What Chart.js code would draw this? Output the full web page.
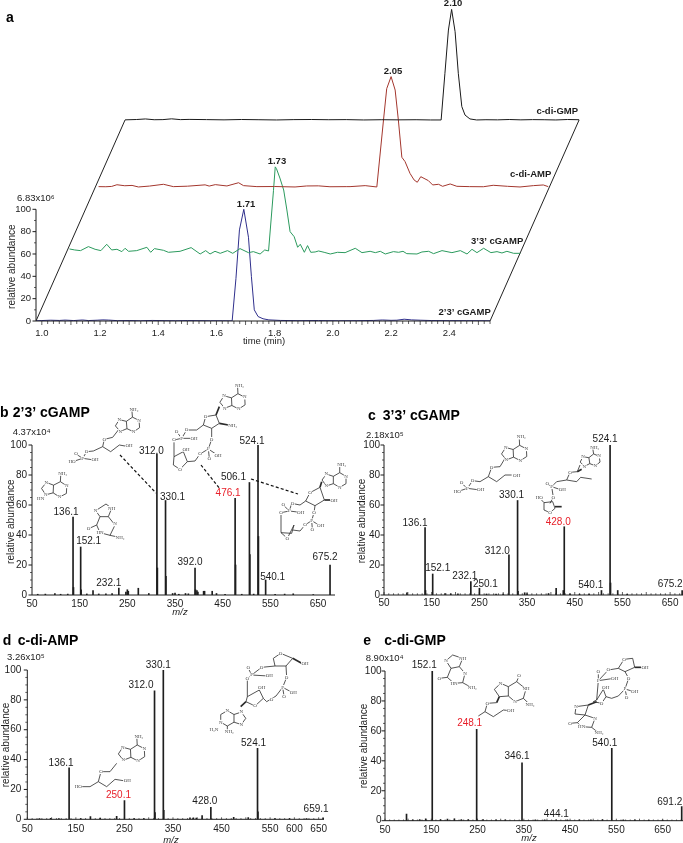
<!DOCTYPE html>
<html>
<head>
<meta charset="utf-8">
<style>
html, body { margin: 0; padding: 0; background: #fff; }
#page { position: relative; width: 683px; height: 843px; overflow: hidden; }
canvas { position: absolute; }
</style>
<script src="https://cdn.jsdelivr.net/npm/chart.js@4"></script>
</head>
<body>
<div id="page"></div>
<script>
// panel a: traces, time in min, abundance above own baseline
var timeTicks = [1.0, 1.2, 1.4, 1.6, 1.8, 2.0, 2.2, 2.4];
var abundanceTicks = [0, 20, 40, 60, 80, 100];

var cgamp23Times = [0.98, 1.0, 1.03, 1.06, 1.08, 1.11, 1.14, 1.16, 1.19, 1.21, 1.23, 1.26, 1.3, 1.34, 1.38, 1.42, 1.46, 1.5, 1.54, 1.58, 1.62, 1.654, 1.667, 1.679, 1.694, 1.71, 1.72, 1.73, 1.743, 1.76, 1.78, 1.82, 1.88, 1.95, 2.02, 2.08, 2.14, 2.17, 2.2, 2.22, 2.245, 2.27, 2.3, 2.34, 2.4, 2.46, 2.54];
var cgamp23Values = [0.2, 0.4, 0.7, 0.5, 0.8, 0.4, 0.9, 0.4, 0.7, 1, 0.8, 0.3, 0.4, 0.2, 0.5, 0.3, 0.2, 0.4, 0.3, 0.2, 0.2, 0.1, 38, 81.6, 100, 75, 40, 10, 4, 2, 1, 0.5, 0.3, 0.4, 0.2, 0.3, 0.5, 0.9, 0.6, 0.7, 1.6, 1, 0.7, 0.4, 0.3, 0.3, 0.2];

var cgamp33Times = [0.992, 1.01, 1.03, 1.057, 1.08, 1.10, 1.12, 1.137, 1.155, 1.172, 1.183, 1.195, 1.223, 1.258, 1.271, 1.284, 1.315, 1.332, 1.372, 1.41, 1.441, 1.46, 1.475, 1.492, 1.51, 1.535, 1.553, 1.578, 1.607, 1.624, 1.647, 1.663, 1.676, 1.693, 1.699, 1.703, 1.715, 1.728, 1.739, 1.75, 1.764, 1.776, 1.785, 1.799, 1.81, 1.821, 1.836, 1.848, 1.867, 1.888, 1.913, 1.939, 1.974, 1.997, 2.025, 2.043, 2.06, 2.077, 2.105, 2.123, 2.138, 2.151, 2.186, 2.203, 2.226, 2.243, 2.272, 2.306, 2.335, 2.358, 2.375, 2.392, 2.415, 2.44, 2.461, 2.478, 2.495, 2.518, 2.541];
var cgamp33Values = [4.5, 3.6, 3, 6.6, 4.2, 3, 8.7, 3.6, 4.2, 2.1, 5.1, 2.4, 3, 6, 1.5, 4.8, 3.3, 1.5, 2.4, 5.7, 0, 3, 0, 2.4, 0.6, 3, 0.6, 4.8, 1.2, 2.1, 0, 3.6, 2.7, 57, 78, 76.5, 68, 57.3, 39.4, 20, 15.5, 6, 8.7, 1.5, 7.5, 1.5, 1.8, 2.7, 1.5, 0, 1.5, 1.2, 5.1, 1.2, 2.4, 1.2, 2.4, 0, 2.1, 1.5, 2.4, 0.3, 0, 1.8, 2.4, 0.3, 3, 1.2, 3, 0, 4.2, 1.2, 5.1, 1.2, 2.1, 0.9, 2.4, 0.6, 0.6];

var diAmpTimes = [0.995, 1.02, 1.04, 1.058, 1.085, 1.11, 1.132, 1.17, 1.218, 1.252, 1.3, 1.361, 1.375, 1.396, 1.436, 1.476, 1.493, 1.539, 1.6, 1.67, 1.71, 1.75, 1.79, 1.848, 1.859, 1.911, 1.951, 1.974, 1.985, 2.0, 2.014, 2.025, 2.037, 2.048, 2.065, 2.079, 2.09, 2.102, 2.128, 2.143, 2.163, 2.177, 2.203, 2.226, 2.27, 2.317, 2.351, 2.4, 2.443, 2.489, 2.523, 2.54];
var diAmpValues = [0.3, 0.2, 0.5, 2, 1.1, 1.4, 0, 0.8, 2.4, 0.3, 0.7, 1.9, 0.8, 2.1, 0.9, 3.8, 1.2, 0.3, 0.4, 0, 0.9, 1, 0.2, 0.3, 0.3, 1.2, 0, 60, 88, 98.8, 86.8, 60, 26.6, 22.7, 12.2, 6.3, 4.2, 9.2, 5.7, 1.8, 2.4, 0.6, 2.7, 0.6, 0.3, 0.2, 1.5, 0.6, 0, 1.2, 1.8, 0.3];

var diGmpTimes = [0.98, 1.02, 1.05, 1.08, 1.11, 1.14, 1.17, 1.2, 1.26, 1.32, 1.38, 1.44, 1.5, 1.56, 1.62, 1.68, 1.74, 1.8, 1.86, 1.92, 1.98, 2.03, 2.066, 2.079, 2.091, 2.102, 2.114, 2.125, 2.137, 2.148, 2.165, 2.188, 2.22, 2.26, 2.3, 2.34, 2.38, 2.42, 2.46, 2.5, 2.54];
var diGmpValues = [0.1, 0.4, 0.9, 0.2, 0.3, 1.0, 0.3, 0.5, 0.3, 0.1, 0.4, 0.2, 0, 0.3, 0.4, 0.2, 0.3, 0, 0.2, 0.1, 0.2, 0, 0, 41.8, 80.5, 99, 79, 41.8, 12, 4.4, 0.9, 0, 0.2, 0.1, 0.4, 0.1, 0.3, 0.2, 0, 0.4, 0.2];

// where each trace sits on the slanted stack, in axis units
var traceLift = [0, 60, 120, 180];
var traceShift = [0, 0.103, 0.2, 0.306];
var traceNames = ["2’3’ cGAMP", "3’3’ cGAMP", "c-di-AMP", "c-di-GMP"];
var tracePeakLabels = ["1.71", "1.73", "2.05", "2.10"];

// panels b-e: every stick of the spectra, m/z against relative abundance
var bMz = [136.1, 137, 152.1, 153, 232.1, 312, 313, 330.1, 331, 392, 393, 476.1, 477, 506.1, 507, 524.1, 525, 540.1, 675.2, 62, 78, 98, 110, 125, 165, 178, 190, 205, 218, 247, 250, 252, 273, 295, 345, 350, 358, 372, 378, 396, 398, 410, 412, 428, 437, 455, 490, 515, 560, 580, 598, 640];
var bValues = [52, 5, 32, 3.5, 4.6, 94, 18, 63, 12.5, 18, 3.5, 64.5, 20, 75, 27, 100, 39, 10, 20, 0.5, 0.6, 1, 0.5, 0.6, 0.7, 3, 0.7, 0.8, 1, 2, 3.5, 2.5, 4.5, 1, 1, 1.2, 0.5, 1, 0.8, 3, 2, 2.5, 2.5, 2.5, 1, 0.5, 0.5, 0.6, 0.4, 0.6, 0.8, 0.3];
var bLabelMz = [136.1, 152.1, 232.1, 312, 330.1, 392, 476.1, 506.1, 524.1, 540.1, 675.2];
var bLabelValues = [52, 32, 4.6, 94, 63, 18, 64.5, 75, 100, 10, 20];
var bLabelTexts = ["136.1", "152.1", "232.1", "312.0", "330.1", "392.0", "476.1", "506.1", "524.1", "540.1", "675.2"];

var cMz = [136.1, 137, 152.1, 232.1, 250.1, 312, 330.1, 331, 345, 350, 428, 426, 411, 506, 524.1, 525, 540.1, 675.2, 98, 178, 190, 205, 265, 285, 300, 395, 440, 460, 480, 560];
var cValues = [45, 3, 14, 9, 4.5, 26.7, 63, 2.5, 1.5, 1, 45.5, 3, 4.5, 3, 100, 8, 3, 3, 1.5, 1, 0.8, 0.8, 0.7, 0.6, 0.7, 1, 0.8, 0.6, 0.6, 0.5];
var cLabelMz = [136.1, 152.1, 232.1, 250.1, 312, 330.1, 428, 540.1, 524.1, 675.2];
var cLabelValues = [45, 14, 9, 4.5, 26.7, 63, 45.5, 3, 100, 3];
var cLabelTexts = ["136.1", "152.1", "232.1", "250.1", "312.0", "330.1", "428.0", "540.1", "524.1", "675.2"];

var dMz = [136.1, 250.1, 312, 313, 330.1, 331, 428, 410, 524.1, 525, 659.1, 75, 98, 115, 160, 180, 200, 234, 270, 290, 385, 392, 398, 475, 505, 560, 590, 625];
var dValues = [34.5, 12.5, 86, 4.5, 100, 6, 8, 2.5, 47.5, 5, 1, 0.5, 0.6, 0.5, 0.5, 1.8, 0.6, 2, 0.5, 0.5, 1, 1, 0.8, 1.4, 1.2, 0.5, 0.4, 0.4];
var dLabelMz = [136.1, 250.1, 312, 330.1, 428, 524.1, 659.1];
var dLabelValues = [34.5, 12.5, 86, 100, 8, 47.5, 1];
var dLabelTexts = ["136.1", "250.1", "312.0", "330.1", "428.0", "524.1", "659.1"];

var eMz = [152.1, 248.1, 346.1, 444.1, 540.1, 691.2, 96.5, 110, 125, 138, 170, 185, 200, 215, 230, 262, 290, 310, 375, 395, 420, 470, 495, 520, 565, 590, 620, 650];
var eValues = [100, 61, 38.7, 0.5, 48.3, 9.4, 4.5, 0.6, 0.8, 1.2, 0.8, 1, 1.2, 0.8, 0.7, 0.8, 0.6, 0.5, 0.5, 0.6, 0.5, 0.5, 0.5, 0.8, 0.6, 0.5, 0.4, 0.4];
var eLabelMz = [152.1, 248.1, 346.1, 444.1, 540.1, 691.2];
var eLabelValues = [100, 61, 38.7, 0.5, 48.3, 9.4];
var eLabelTexts = ["152.1", "248.1", "346.1", "444.1", "540.1", "691.2"];

var mzTicks = [50, 150, 250, 350, 450, 550, 650];
var mzTicksD = [50, 150, 250, 350, 450, 550, 600, 650];

var SANS = '"Liberation Sans", Arial, sans-serif';
var INK = "#1c1c1c";
Chart.defaults.animation = false;
Chart.defaults.font.family = SANS;

function addCanvas(box) {
    var canvas = document.createElement("canvas");
    canvas.width = box.width;
    canvas.height = box.height;
    canvas.style.left = box.left + "px";
    canvas.style.top = box.top + "px";
    document.getElementById("page").appendChild(canvas);
    return canvas;
}

function line(ctx, x1, y1, x2, y2, width) {
    ctx.beginPath();
    ctx.lineWidth = width || 1;
    ctx.moveTo(x1, y1);
    ctx.lineTo(x2, y2);
    ctx.stroke();
}

function text(ctx, str, x, y, font, align, color) {
    ctx.font = font;
    ctx.textAlign = align || "center";
    ctx.textBaseline = "middle";
    ctx.fillStyle = color || INK;
    ctx.fillText(str, x, y);
}

function sideLabel(ctx, str, x, y) {
    ctx.save();
    ctx.translate(x, y);
    ctx.rotate(-Math.PI / 2);
    text(ctx, str, 0, 0, "10px " + SANS);
    ctx.restore();
}

// small chemical sketches, coordinates are in 3x crop pixels
function drawPurine(ctx, cx, cy, size, rot) {
    var pts = [[0, -0.5], [0.87, -1], [1.73, -0.5], [1.73, 0.5], [0.87, 1], [0, 0.5], [-0.95, 0.81], [-1.54, 0], [-0.95, -0.81]];
    var p = pts.map(function (q) {
        return [cx + size * (q[0] * Math.cos(rot) - q[1] * Math.sin(rot)), cy + size * (q[0] * Math.sin(rot) + q[1] * Math.cos(rot))];
    });
    ctx.lineWidth = 2.4;
    ctx.beginPath();
    p.forEach(function (q, i) { if (i) ctx.lineTo(q[0], q[1]); else ctx.moveTo(q[0], q[1]); });
    ctx.closePath();
    ctx.moveTo(p[0][0], p[0][1]);
    ctx.lineTo(p[5][0], p[5][1]);
    ctx.stroke();
    var nh = [cx + size * (0.87 * Math.cos(rot) + 1.9 * Math.sin(rot)), cy + size * (0.87 * Math.sin(rot) - 1.9 * Math.cos(rot))];
    line(ctx, p[1][0], p[1][1], nh[0], nh[1], 2.4);
    return [[p[2][0], p[2][1], "N"], [p[4][0], p[4][1], "N"], [p[6][0], p[6][1], "N"], [p[8][0], p[8][1], "N"], [nh[0] + 6, nh[1] - 4, "NH₂"]];
}

function drawSketch(ctx, box, originX, originY, parts) {
    ctx.save();
    ctx.translate(originX - box.left, originY - box.top);
    ctx.scale(1 / 3, 1 / 3);
    ctx.strokeStyle = "#2a2a2a";
    ctx.lineJoin = "round";
    var atoms = (parts.atoms || []).slice();
    (parts.purines || []).forEach(function (pu) {
        atoms = atoms.concat(drawPurine(ctx, pu[0], pu[1], pu[2], pu[3]));
    });
    (parts.lines || []).forEach(function (l) {
        ctx.lineWidth = 2.4;
        ctx.beginPath();
        for (var i = 0; i < l.length; i += 2) {
            if (i) ctx.lineTo(l[i], l[i + 1]); else ctx.moveTo(l[i], l[i + 1]);
        }
        ctx.stroke();
    });
    (parts.bold || []).forEach(function (l) {
        line(ctx, l[0], l[1], l[2], l[3], 5);
    });
    atoms.forEach(function (a) {
        ctx.font = "15px \"Liberation Serif\", serif";
        var w = ctx.measureText(a[2]).width;
        ctx.fillStyle = "#fff";
        ctx.fillRect(a[0] - w / 2 - 1, a[1] - 7, w + 2, 14);
        text(ctx, a[2], a[0], a[1], "15px \"Liberation Serif\", serif", "center", "#444");
    });
    ctx.restore();
}

function drawDashed(ctx, box, segments) {
    ctx.save();
    ctx.translate(-box.left, -box.top);
    ctx.setLineDash([3, 2.2]);
    ctx.strokeStyle = "#111";
    segments.forEach(function (s) { line(ctx, s[0], s[1], s[2], s[3], 1.2); });
    ctx.restore();
}

// shared axis ink: the axis line stops where the printed axis stops, so it is not the library border
function drawAxes(ctx, xs, ys, opt) {
    ctx.save();
    ctx.strokeStyle = INK;
    var x0 = xs.getPixelForValue(opt.xFrom), x1 = xs.getPixelForValue(opt.xTo);
    var y0 = ys.getPixelForValue(0), y1 = ys.getPixelForValue(100);
    line(ctx, x0, y0, x0, y1, 1);
    line(ctx, x0, y0, x1, y0, 1);
    for (var v = 0; v <= 100; v += opt.yMinor) {
        var py = ys.getPixelForValue(v);
        line(ctx, x0 - (v % 20 === 0 ? 3.5 : 2), py, x0, py, v % 20 === 0 ? 1 : 0.7);
    }
    if (opt.xMinor) {
        var n = Math.round((opt.xTo - opt.xFirst) / opt.xMinor);
        for (var i = 0; i <= n; i++) {
            var val = opt.xFirst + i * opt.xMinor;
            var px = xs.getPixelForValue(val);
            var big = i % opt.xMajorEvery === 0;
            var len = (big ? opt.xBig : opt.xSmall) * opt.xDir;
            line(ctx, px, y0, px, y0 + len, 0.7);
        }
    }
    ctx.restore();
}

function fixedAxis(size) {
    return function (scale) {
        if (scale.isHorizontal()) {
            scale.height = size;
            scale.paddingLeft = 0;
            scale.paddingRight = 0;
        } else {
            scale.width = size;
            scale.paddingTop = 0;
            scale.paddingBottom = 0;
        }
    };
}

function fixTicks(list) {
    return function (scale) {
        scale.ticks = list.map(function (v) { return { value: v }; });
    };
}

// ---- panel a ----
var boxA = { left: 0, top: 0, width: 683, height: 348 };
var traceColors = ["#2f2f8c", "#2b9a5d", "#a3362d", "#1a1a1a"];

function tracePoints(times, values, layer) {
    return times.map(function (t, i) {
        return { x: t + traceShift[layer], y: values[i] + traceLift[layer] };
    });
}

var traceSets = [
    [cgamp23Times, cgamp23Values],
    [cgamp33Times, cgamp33Values],
    [diAmpTimes, diAmpValues],
    [diGmpTimes, diGmpValues]
];
var datasetsA = traceSets.slice().reverse().map(function (pair, i) {
    var layer = 3 - i;
    return {
        label: traceNames[layer],
        data: tracePoints(pair[0], pair[1], layer),
        borderColor: traceColors[layer],
        borderWidth: 1,
        pointRadius: 0,
        tension: 0
    };
});
// slanted sides of the stack
[0.98, 2.54].forEach(function (t) {
    datasetsA.push({
        label: "edge",
        data: [{ x: t, y: traceLift[0] }, { x: t + traceShift[3], y: traceLift[3] }],
        borderColor: "#222",
        borderWidth: 1,
        pointRadius: 0
    });
});

var peakShift = [[2.3, -4.5], [1.7, -5.3], [2, -5.7], [1.5, -6.3]];
var nameShift = [[0.7, -9], [3, -13], [3, -13], [-1, -8.3]];
var traceEnd = [2.54, 2.541, 2.54, 2.54];

new Chart(addCanvas(boxA), {
    type: "line",
    data: { datasets: datasetsA },
    options: {
        responsive: false,
        parsing: true,
        layout: { padding: 0 },
        plugins: { legend: { display: false }, tooltip: { enabled: false } },
        scales: {
            x: {
                type: "linear", min: 0.98, max: 3.203,
                grid: { display: false, drawTicks: false }, border: { display: false },
                afterFit: fixedAxis(27),
                afterBuildTicks: fixTicks(timeTicks),
                ticks: {
                    padding: 6.7, color: INK, font: { size: 9.5 }, maxRotation: 0, autoSkip: false,
                    callback: function (v) { return v.toFixed(1); }
                }
            },
            y: {
                type: "linear", min: 0, max: 287.4,
                grid: { display: false, drawTicks: false }, border: { display: false },
                afterFit: fixedAxis(36),
                afterBuildTicks: fixTicks(abundanceTicks),
                ticks: { padding: 5, color: INK, font: { size: 9.5 }, autoSkip: false }
            }
        }
    },
    plugins: [{
        id: "panelA",
        afterDraw: function (chart) {
            var ctx = chart.ctx, xs = chart.scales.x, ys = chart.scales.y;
            drawAxes(ctx, xs, ys, { xFrom: 0.98, xTo: 2.54, xFirst: 1.0, xMinor: 0.02, xMajorEvery: 5, xBig: 4, xSmall: 3, xDir: 1, yMinor: 10 });
            var peaks = [[1.694, 100], [1.699, 78], [2.0, 98.8], [2.102, 99]];
            tracePeakLabels.forEach(function (str, i) {
                text(ctx, str, xs.getPixelForValue(peaks[i][0] + traceShift[i]) + peakShift[i][0],
                    ys.getPixelForValue(peaks[i][1] + traceLift[i]) + peakShift[i][1], "bold 9.5px " + SANS);
            });
            traceNames.forEach(function (str, i) {
                text(ctx, str, xs.getPixelForValue(traceEnd[i] + traceShift[i]) + nameShift[i][0],
                    ys.getPixelForValue(traceLift[i]) + nameShift[i][1], "bold 9.5px " + SANS, "right");
            });
            text(ctx, "a", 6, 18, "bold 14px " + SANS, "left", "#000");
            text(ctx, "6.83x10⁶", 17, 198, "9.5px " + SANS, "left");
            sideLabel(ctx, "relative abundance", 12.7, 266.7);
            text(ctx, "time (min)", 264, 341, "9.5px " + SANS);
        }
    }]
});

// ---- panels b-e ----
function spectrum(cfg) {
    var box = cfg.box;
    new Chart(addCanvas(box), {
        type: "bar",
        data: {
            datasets: [{
                data: cfg.mz.map(function (m, i) { return { x: m, y: cfg.values[i] }; }),
                backgroundColor: "#1e1e1e",
                barThickness: 1,
                borderSkipped: false
            }]
        },
        options: {
            responsive: false,
            layout: { padding: { top: cfg.yTop - box.top, right: box.left + box.width - cfg.right, left: 0, bottom: 0 } },
            plugins: { legend: { display: false }, tooltip: { enabled: false } },
            scales: {
                x: {
                    type: "linear", min: 50, max: cfg.xMax, offset: false,
                    grid: { display: false, offset: false, drawTicks: false }, border: { display: false },
                    afterFit: fixedAxis(box.top + box.height - cfg.yBottom),
                    afterBuildTicks: fixTicks(cfg.xTicks),
                    ticks: { padding: cfg.xPad, color: INK, font: { size: 10 }, maxRotation: 0, autoSkip: false }
                },
                y: {
                    type: "linear", min: 0, max: 100,
                    grid: { display: false, drawTicks: false }, border: { display: false },
                    afterFit: fixedAxis(cfg.axisX - box.left),
                    afterBuildTicks: fixTicks(abundanceTicks),
                    ticks: { padding: cfg.yPad, color: INK, font: { size: 10 }, autoSkip: false }
                }
            }
        },
        plugins: [{
            id: "panelSpectrum",
            afterDraw: function (chart) {
                var ctx = chart.ctx, xs = chart.scales.x, ys = chart.scales.y;
                drawAxes(ctx, xs, ys, {
                    xFrom: 50, xTo: cfg.xMax, xFirst: 50, xMinor: cfg.xMinor, xMajorEvery: 5,
                    xBig: cfg.xBig, xSmall: cfg.xSmall, xDir: -1, yMinor: 5
                });
                cfg.labelTexts.forEach(function (str, i) {
                    var red = cfg.red === str;
                    text(ctx, str, xs.getPixelForValue(cfg.labelMz[i]) + cfg.shifts[i][0],
                        ys.getPixelForValue(cfg.labelValues[i]) + cfg.shifts[i][1],
                        "10px " + SANS, "center", red ? "#e8202a" : INK);
                });
                ctx.save();
                ctx.translate(-box.left, -box.top);
                text(ctx, cfg.letter, cfg.letterX, cfg.titleY, "bold 14px " + SANS, "left", "#000");
                text(ctx, cfg.title, cfg.titleX, cfg.titleY, "bold 14px " + SANS, "left", "#000");
                text(ctx, cfg.scaleText, cfg.scaleX, cfg.scaleY, "9.5px " + SANS, "left");
                sideLabel(ctx, "relative abundance", cfg.sideX, cfg.sideY);
                if (cfg.mzX) text(ctx, "m/z", cfg.mzX, cfg.mzY, "italic 9.5px " + SANS);
                ctx.restore();
                (cfg.sketches || []).forEach(function (s) {
                    drawSketch(ctx, box, s[0], s[1], s[2]);
                });
                if (cfg.dashes) drawDashed(ctx, box, cfg.dashes);
            }
        }]
    });
}

var sketchB = [
    [0, 340, { purines: [[160, 447, 23, 0.05]], atoms: [[122, 477, "HN"]] }],
    [0, 340, {
        lines: [[300, 530, 287, 512, 318, 492, 335, 505, 325, 530, 300, 530, 290, 555, 300, 578, 330, 586, 345, 555, 325, 530], [290, 555, 268, 565], [330, 586, 358, 592]],
        atoms: [[287, 512, "N"], [335, 505, "NH"], [266, 566, "O"], [300, 577, "HN"], [345, 552, "N"], [360, 593, "NH₂"]]
    }],
    [60, 380, {
        purines: [[200, 135, 22, -0.08]],
        lines: [[175, 150, 158, 172, 133, 178, 128, 200, 152, 215, 178, 195, 195, 198], [128, 200, 100, 213, 80, 215, 68, 235, 38, 245], [68, 235, 48, 222], [68, 235, 103, 240]],
        atoms: [[133, 178, "O"], [80, 215, "O"], [68, 235, "P"], [48, 220, "O"], [36, 245, "HO"], [105, 240, "OH"], [207, 198, "OH"]]
    }],
    [60, 380, {
        purines: [[515, 65, 23, -0.05]],
        lines: [[437, 110, 468, 105, 478, 130, 455, 145, 430, 135, 437, 110], [430, 135, 410, 150, 380, 150, 365, 175, 342, 180, 342, 230, 340, 255, 360, 268, 382, 245, 370, 215, 342, 230], [365, 175, 350, 155], [365, 175, 400, 175], [455, 145, 455, 178, 445, 207, 420, 222, 405, 243, 382, 245], [445, 207, 448, 235], [445, 207, 472, 225]],
        bold: [[478, 80, 468, 105], [478, 130, 505, 135]],
        atoms: [[437, 110, "O"], [518, 137, "NH₂"], [380, 150, "O"], [365, 175, "P"], [350, 155, "O"], [402, 176, "OH"], [342, 180, "O"], [378, 208, "OH"], [360, 268, "O"], [455, 178, "O"], [445, 207, "P"], [448, 237, "O"], [474, 226, "OH"], [420, 222, "O"]]
    }],
    [0, 340, {
        purines: [[1000, 420, 22, 0]],
        lines: [[930, 458, 960, 442, 973, 480, 945, 497, 917, 483, 930, 458], [917, 483, 900, 495, 875, 490, 868, 513, 843, 518, 843, 578, 862, 595, 882, 555, 875, 580, 843, 578], [868, 513, 850, 495], [868, 513, 900, 517], [945, 497, 942, 518, 935, 542, 915, 555, 900, 573, 878, 570], [935, 542, 937, 567], [935, 542, 960, 557]],
        bold: [[965, 425, 960, 442], [973, 480, 995, 480]],
        atoms: [[930, 458, "O"], [1002, 481, "OH"], [878, 490, "O"], [868, 513, "P"], [850, 493, "O"], [902, 517, "OH"], [843, 518, "O"], [862, 595, "O"], [942, 518, "O"], [935, 542, "P"], [915, 555, "O"], [962, 557, "OH"], [937, 569, "O"]]
    }]
];

var sketchC = [
    [340, 340, {
        purines: [[520, 340, 23, -0.05]],
        lines: [[495, 355, 480, 380, 455, 382, 445, 410, 470, 425, 495, 405, 515, 405], [445, 410, 420, 425, 398, 422, 382, 445, 352, 455], [382, 445, 365, 430], [382, 445, 420, 450]],
        atoms: [[455, 382, "O"], [398, 422, "O"], [382, 445, "P"], [365, 428, "O"], [352, 456, "HO"], [422, 450, "OH"], [530, 407, "OH"]]
    }],
    [340, 340, {
        purines: [[748, 362, 18, -0.15]],
        lines: [[720, 375, 712, 395, 690, 397, 680, 420, 710, 425, 722, 412, 755, 417], [680, 420, 650, 425, 635, 440, 640, 472, 630, 490], [635, 440, 622, 432], [635, 440, 665, 450], [612, 488, 638, 485, 645, 505, 630, 518, 612, 510, 612, 488], [612, 488, 598, 473]],
        bold: [[645, 500, 665, 500], [712, 395, 725, 388]],
        atoms: [[690, 397, "O"], [635, 440, "P"], [622, 430, "O"], [667, 450, "OH"], [640, 472, "O"], [598, 473, "HO"], [630, 518, "O"]]
    }]
];

var sketchD = [
    [0, 590, {
        purines: [[392, 490, 24, -0.05]],
        lines: [[350, 520, 330, 545, 303, 545, 295, 575, 320, 590, 345, 568, 370, 572], [295, 575, 270, 590, 235, 590]],
        atoms: [[303, 545, "O"], [235, 590, "HO"], [382, 573, "OH"]]
    }],
    [0, 590, {
        purines: [[702, 385, 23, 3.14]],
        lines: [[842, 190, 878, 205, 858, 228, 825, 228, 820, 205, 842, 190], [825, 228, 785, 232, 755, 255, 742, 265, 742, 320, 738, 335, 765, 348, 790, 325, 778, 300, 742, 320], [755, 255, 745, 235], [755, 255, 805, 258], [858, 228, 860, 262, 848, 292, 828, 318, 800, 335, 790, 325], [848, 292, 852, 318], [848, 292, 878, 308]],
        bold: [[878, 205, 905, 220], [738, 335, 722, 350]],
        atoms: [[842, 190, "O"], [915, 220, "OH"], [785, 232, "O"], [755, 255, "P"], [745, 233, "O"], [808, 258, "OH"], [742, 265, "O"], [785, 292, "OH"], [765, 348, "O"], [860, 262, "O"], [848, 292, "P"], [852, 320, "O"], [880, 308, "OH"], [815, 330, "O"], [642, 418, "H₂N"]]
    }]
];

var sketchE = [
    [340, 590, {
        lines: [[333, 235, 318, 212, 338, 195, 368, 205, 358, 230, 333, 235, 322, 262, 342, 280, 368, 278, 375, 250, 358, 230], [322, 262, 298, 265], [368, 278, 395, 293]],
        atoms: [[318, 212, "N"], [368, 205, "NH"], [298, 265, "O"], [342, 280, "HN"], [375, 250, "N"], [397, 294, "NH₂"]]
    }],
    [340, 590, {
        lines: [[478, 320, 463, 298, 482, 280, 505, 290, 505, 318, 478, 320], [505, 290, 530, 275, 558, 297, 550, 325, 525, 335, 505, 318], [530, 275, 537, 258], [550, 325, 568, 342], [470, 338, 442, 340, 435, 365, 460, 380, 490, 360, 510, 362], [435, 365, 415, 378]],
        bold: [[478, 320, 470, 338]],
        atoms: [[482, 280, "N"], [537, 258, "O"], [558, 297, "NH"], [570, 343, "NH₂"], [525, 335, "N"], [442, 340, "O"], [512, 362, "OH"]]
    }],
    [340, 590, {
        lines: [[852, 208, 878, 205, 884, 232, 855, 245, 835, 235, 852, 208], [835, 235, 805, 240, 775, 272, 770, 330, 760, 335, 785, 340, 798, 320, 790, 298, 770, 330], [775, 272, 775, 248], [775, 272, 822, 265], [855, 245, 866, 265, 855, 297, 835, 318, 815, 325, 798, 320], [855, 297, 860, 320], [855, 297, 882, 305], [745, 345, 708, 350, 705, 372, 735, 375, 745, 345], [735, 375, 712, 398, 725, 410, 755, 412, 765, 385, 735, 375], [755, 412, 775, 428], [712, 398, 690, 400]],
        bold: [[884, 232, 908, 232], [770, 335, 745, 345]],
        atoms: [[852, 208, "O"], [915, 232, "OH"], [805, 240, "O"], [775, 272, "P"], [775, 246, "O"], [824, 266, "OH"], [797, 292, "OH"], [785, 340, "O"], [866, 265, "O"], [855, 297, "P"], [860, 322, "O"], [884, 305, "OH"], [708, 350, "N"], [690, 400, "O"], [725, 410, "HN"], [777, 429, "NH₂"], [765, 385, "N"]]
    }]
];

spectrum({
    box: { left: 0, top: 370, width: 365, height: 250 },
    axisX: 32, right: 335, yTop: 445, yBottom: 595, xMax: 685.6, yPad: 5, xPad: 3,
    mz: bMz, values: bValues, xTicks: mzTicks, xMinor: 0, xBig: 0, xSmall: 0,
    labelMz: bLabelMz, labelValues: bLabelValues, labelTexts: bLabelTexts, red: "476.1",
    shifts: [[-7, -5], [8, -6], [-10, -5], [-5.5, -3], [7, -3], [-5, -6], [-7, -5], [-16, -5], [-6, -4], [7, -3], [-5, -8]],
    letter: "b", letterX: 0, title: "2’3’ cGAMP", titleX: 12.7, titleY: 412.7,
    scaleText: "4.37x10⁴", scaleX: 12.7, scaleY: 432, sideX: 11, sideY: 521.7, mzX: 180, mzY: 612,
    sketches: sketchB,
    dashes: [[120, 455, 156, 493], [201, 465, 220, 489], [251, 479, 298, 494]]
});

spectrum({
    box: { left: 345, top: 370, width: 338, height: 250 },
    axisX: 384, right: 683, yTop: 445, yBottom: 595, xMax: 677, yPad: 4, xPad: 2.7,
    mz: cMz, values: cValues, xTicks: mzTicks, xMinor: 10, xBig: 3, xSmall: 1.7,
    labelMz: cLabelMz, labelValues: cLabelValues, labelTexts: cLabelTexts, red: "428.0",
    shifts: [[-10, -4], [5, -6], [-6, -5], [6, -4], [-11.7, -4], [-6, -5], [-6, -5], [-27, -5], [-5, -5.5], [-12, -6]],
    letter: "c", letterX: 368, title: "3’3’ cGAMP", titleX: 382.7, titleY: 415.7,
    scaleText: "2.18x10⁵", scaleX: 366, scaleY: 435, sideX: 362.7, sideY: 521,
    sketches: sketchC
});

spectrum({
    box: { left: 0, top: 630, width: 345, height: 213 },
    axisX: 27.3, right: 324, yTop: 670, yBottom: 819.3, xMax: 661, yPad: 6, xPad: 4,
    mz: dMz, values: dValues, xTicks: mzTicksD, xMinor: 10, xBig: 2, xSmall: 1.2,
    labelMz: dLabelMz, labelValues: dLabelValues, labelTexts: dLabelTexts, red: "250.1",
    shifts: [[-8, -5], [-6, -5], [-13.6, -6], [-5, -5], [-6, -6], [-4, -5.6], [-7, -9]],
    letter: "d", letterX: 2.7, title: "c-di-AMP", titleX: 17.7, titleY: 640.7,
    scaleText: "3.26x10⁵", scaleX: 7, scaleY: 657.7, sideX: 6, sideY: 745, mzX: 171, mzY: 840,
    sketches: sketchD
});

spectrum({
    box: { left: 345, top: 630, width: 338, height: 213 },
    axisX: 385, right: 683, yTop: 671, yBottom: 820.7, xMax: 694, yPad: 3.5, xPad: 3.7,
    mz: eMz, values: eValues, xTicks: mzTicks, xMinor: 10, xBig: 2, xSmall: 1.2,
    labelMz: eLabelMz, labelValues: eLabelValues, labelTexts: eLabelTexts, red: "248.1",
    shifts: [[-8, -6], [-7, -6.6], [-5, -7], [-11, -6], [-7, -5], [-12, -4.5]],
    letter: "e", letterX: 363.3, title: "c-di-GMP", titleX: 384.3, titleY: 641,
    scaleText: "8.90x10⁴", scaleX: 365.7, scaleY: 658, sideX: 364, sideY: 746, mzX: 529, mzY: 838,
    sketches: sketchE
});
</script>
</body>
</html>
